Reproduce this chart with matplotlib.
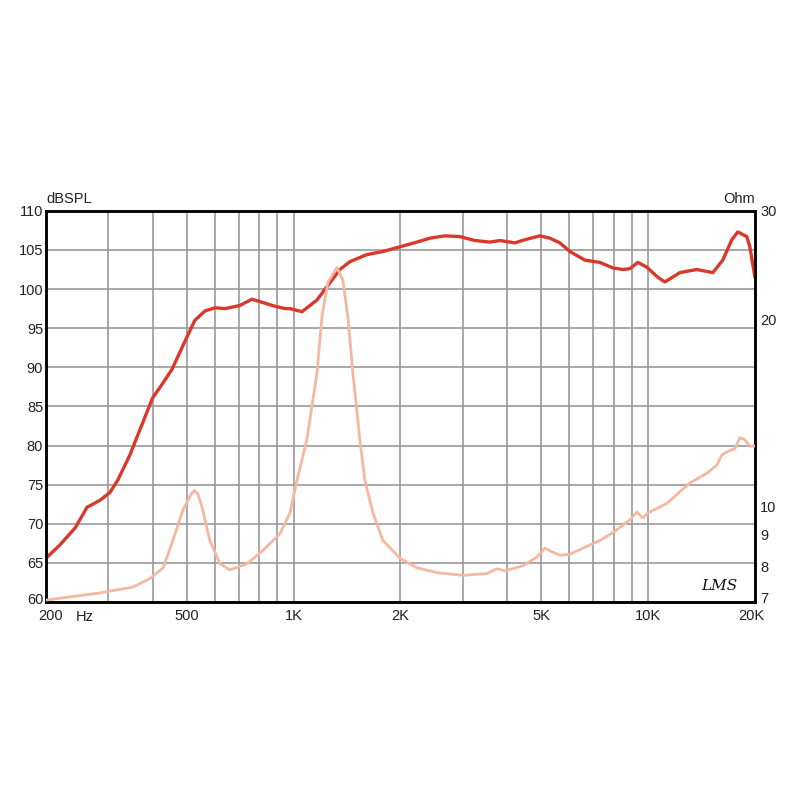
import numpy as np
import matplotlib.pyplot as plt
import matplotlib.transforms as mtransforms
from matplotlib.ticker import NullLocator

plt.rcParams['font.family'] = ['Liberation Sans', 'DejaVu Sans']

# SPL response (dB)
spl_freq = np.array([200, 219, 242, 261, 284, 303, 319, 345, 368, 400, 419, 453, 493, 526,
                     562, 600, 640, 705, 762, 829, 885, 945, 976, 1055, 1163, 1241, 1350,
                     1441, 1609, 1785, 1994, 2226, 2422, 2671, 2945, 3246, 3578, 3818, 4209,
                     4490, 4950, 5283, 5637, 6015, 6632, 7312, 7951, 8486, 8882, 9356, 9918,
                     10585, 11148, 12290, 13724, 15225, 16245, 17224, 17908, 18990, 19366, 20000])
spl_db = np.array([65.6, 67.3, 69.5, 72.1, 73.0, 74.0, 75.6, 78.8, 82.0, 86.1, 87.4, 89.7, 93.3, 96.0,
                   97.2, 97.6, 97.5, 97.9, 98.7, 98.2, 97.8, 97.5, 97.5, 97.1, 98.6, 100.3, 102.5,
                   103.5, 104.4, 104.8, 105.4, 106.0, 106.5, 106.8, 106.7, 106.2, 106.0, 106.2, 105.9,
                   106.3, 106.8, 106.5, 105.9, 104.8, 103.7, 103.4, 102.7, 102.5, 102.6, 103.4, 102.8,
                   101.6, 100.9, 102.1, 102.5, 102.1, 103.7, 106.3, 107.3, 106.7, 105.4, 101.6])

# impedance (Ohm)
imp_freq = np.array([200, 284, 352, 393, 428, 456, 487, 516, 525, 537, 551, 580, 619, 661, 738,
                     819, 915, 976, 1021, 1089, 1163, 1201, 1249, 1324, 1376, 1422, 1469, 1537,
                     1588, 1673, 1785, 1994, 2226, 2535, 3002, 3508, 3743, 3943, 4432, 4853,
                     5113, 5387, 5637, 6015, 6542, 7312, 7951, 8882, 9296, 9662, 9984, 11294,
                     13116, 14648, 15627, 16143, 17005, 17567, 18150, 18748, 19366, 20000])
imp_ohm = np.array([7.05, 7.24, 7.40, 7.64, 7.95, 8.80, 9.86, 10.5, 10.6, 10.45, 9.97, 8.80, 8.07, 7.89, 8.07,
                    8.48, 9.03, 9.75, 11.0, 12.8, 16.4, 20.2, 23.0, 24.3, 23.2, 20.2, 16.4, 12.8,
                    11.0, 9.75, 8.80, 8.24, 7.95, 7.81, 7.73, 7.78, 7.92, 7.86, 8.01, 8.27,
                    8.55, 8.42, 8.33, 8.36, 8.55, 8.80, 9.06, 9.50, 9.78, 9.57, 9.75, 10.1,
                    10.9, 11.3, 11.64, 12.1, 12.3, 12.38, 12.9, 12.8, 12.5, 12.5])

x_major = [200, 500, 1000, 2000, 5000, 10000, 20000]
x_labels = ['200', '500', '1K', '2K', '5K', '10K', '20K']
x_minor = [300, 400, 600, 700, 800, 900, 3000, 4000, 6000, 7000, 8000, 9000]
ohm_ticks = [7, 8, 9, 10, 20, 30]

fig = plt.figure(figsize=(8, 8), dpi=100)
ax = fig.add_axes([0.0575, 0.2475, 0.886, 0.489])

ax.set_xscale('log')
ax.set_xlim(200, 20000)
ax.set_ylim(60, 110)
ax.set_xticks(x_major)
ax.set_xticklabels(x_labels)
ax.set_xticks(x_minor, minor=True)
ax.set_yticks(np.arange(60, 111, 5))
ax.grid(True, which='both', color='#9a9a9a', linewidth=1.2)
ax.set_axisbelow(True)
ax.tick_params(axis='both', which='both', length=0, labelsize=10.5, colors='#222222')
ax.tick_params(axis='x', pad=5)
ax.tick_params(axis='y', pad=2)
for s in ax.spines.values():
    s.set_color('black')
    s.set_linewidth(1.8)

ax.plot(spl_freq, spl_db, color='#d8392b', linewidth=2.4, zorder=4)

ax2 = ax.twinx()
ax2.set_yscale('log')
ax2.set_ylim(7, 30)
ax2.yaxis.set_minor_locator(NullLocator())
ax2.set_yticks(ohm_ticks)
ax2.set_yticklabels([str(t) for t in ohm_ticks])
ax2.tick_params(axis='y', which='both', length=0, labelsize=10.5, pad=4, colors='#222222')
for s in ax2.spines.values():
    s.set_linewidth(1.8)
ax2.plot(imp_freq, imp_ohm, color='#f4b8a2', linewidth=2.0, zorder=3)

# nudge corner labels apart like the original
up = mtransforms.ScaledTranslation(0, 4 / 100, fig.dpi_scale_trans)
right = mtransforms.ScaledTranslation(5 / 100, 0, fig.dpi_scale_trans)
left = mtransforms.ScaledTranslation(-3 / 100, 0, fig.dpi_scale_trans)
ylab0 = ax.get_yticklabels()[0]
ylab0.set_transform(ylab0.get_transform() + up)
rlab0 = ax2.get_yticklabels()[0]
rlab0.set_transform(rlab0.get_transform() + up)
xlabs = ax.get_xticklabels()
xlabs[0].set_transform(xlabs[0].get_transform() + right)
xlabs[-1].set_transform(xlabs[-1].get_transform() + left)

ax.text(0.0, 1.012, 'dBSPL', transform=ax.transAxes, ha='left', va='bottom',
        fontsize=10.5, color='#222222')
ax.text(1.0, 1.012, 'Ohm', transform=ax.transAxes, ha='right', va='bottom',
        fontsize=10.5, color='#222222')
ax.text(0.055, -0.02, 'Hz', transform=ax.transAxes, ha='center', va='top',
        fontsize=10.5, color='#222222')
ax.text(0.976, 0.04, 'LMS', transform=ax.transAxes, ha='right', va='center',
        fontsize=11, style='italic', family='DejaVu Serif', color='#111111')

fig.savefig('out.png', dpi=100)
